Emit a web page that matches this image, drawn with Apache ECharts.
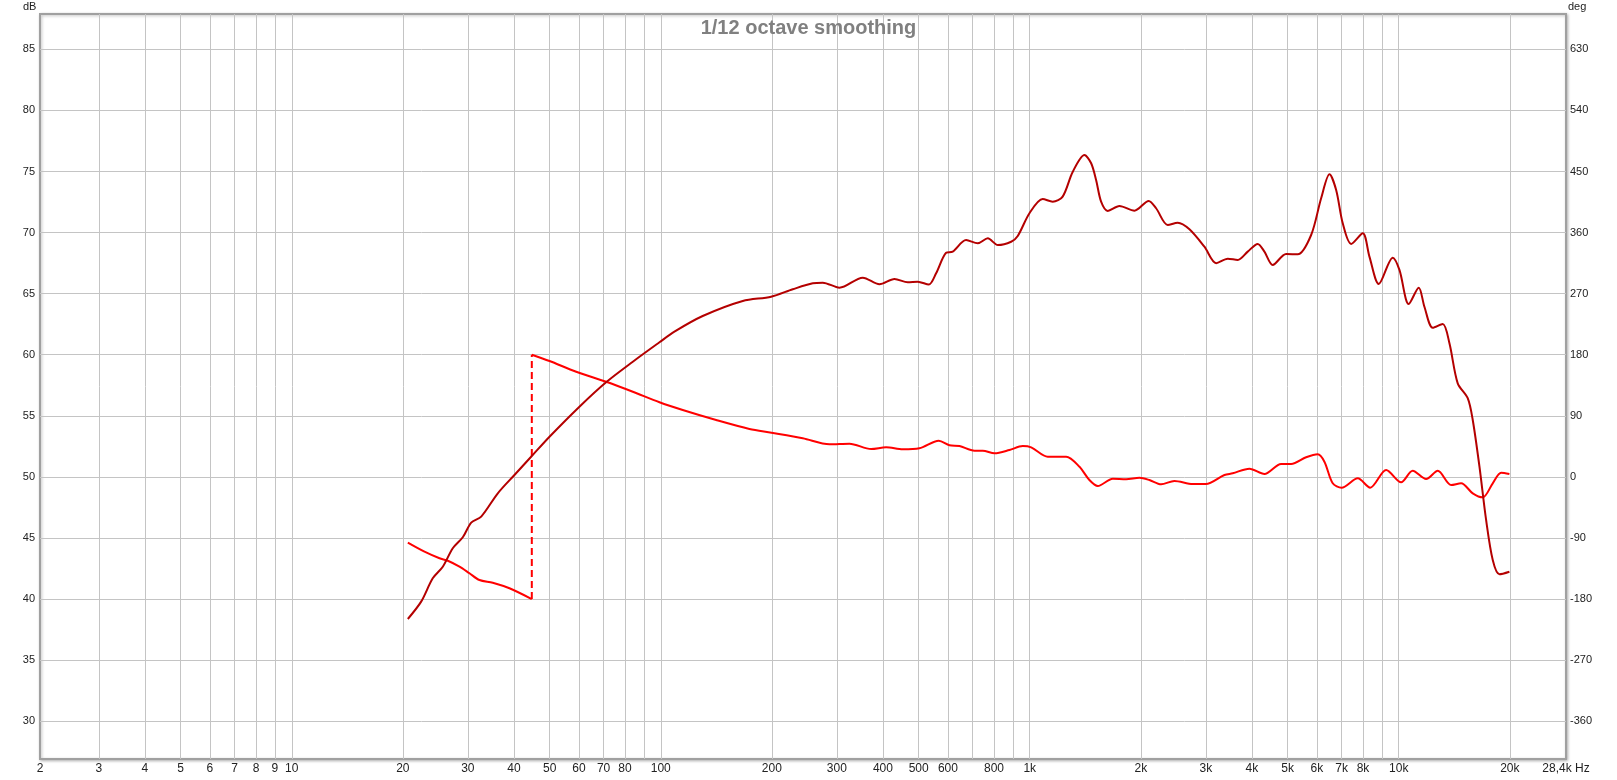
<!DOCTYPE html>
<html>
<head>
<meta charset="utf-8">
<script src="https://cdn.jsdelivr.net/npm/echarts@6/dist/echarts.min.js"></script>
<style>
html,body{margin:0;padding:0;background:#fff;}
#c{width:1617px;height:780px;}
</style>
</head>
<body>
<div id="c"></div>
<script>
// ---- Data ----
const titleText = '1/12 octave smoothing';

// Magnitude (dB) vs frequency (Hz)
const magFreq = [20.63,22.42,24.1,25.66,27.31,29.07,30.64,32.61,36.17,40.13,44.72,49.94,60.2,71.1,84.0,99.2,108.9,129.9,166.8,199.1,227.9,258.2,274.8,305,352.7,391.5,429.9,467.1,497,532.5,557.5,593.4,618.4,672.2,722.9,769.6,819.2,890.3,927.9,998.2,1084,1154,1228,1308,1407,1467,1513,1561,1627,1750,1922,2101,2200,2366,2518,2709,2974,3201,3441,3662,3897,4148,4325,4555,4952,5324,5789,6162,6491,6767,7051,7430,7989,8329,8829,9632,10044,10643,11329,11738,12364,13160,13722,14450,15380,15870,16550,17250,17980,18750,19950];
const magDb = [38.37,39.79,41.70,42.65,44.16,45.06,46.26,46.75,48.66,50.16,51.71,53.29,55.75,57.75,59.43,61.02,61.89,63.17,64.40,64.75,65.36,65.85,65.90,65.49,66.31,65.77,66.20,65.93,65.98,65.74,66.67,68.35,68.44,69.39,69.12,69.53,68.98,69.25,69.72,71.58,72.75,72.53,72.94,74.98,76.35,75.67,74.30,72.53,71.77,72.18,71.79,72.59,71.99,70.62,70.81,70.27,68.84,67.49,67.86,67.76,68.44,69.07,68.44,67.35,68.25,68.22,69.80,72.81,74.77,73.49,70.76,69.07,69.94,68.03,65.79,67.94,66.94,64.15,65.49,63.93,62.21,62.52,60.94,57.66,56.44,54.66,50.84,46.48,43.20,42.03,42.24];

// Phase (deg): low segment before the wrap, high segment after the wrap
const phaseLowFreq = [20.63,22.89,25.14,26.48,28.48,30.31,32.26,35.05,38.9,44.72];
const phaseLowDeg = [-96.9,-110.2,-119.9,-123.5,-132.3,-142.0,-151.9,-155.9,-164.1,-180];
const phaseHighFreq = [44.72,49.94,59.0,71.1,84.0,99.2,114.7,141.3,173.9,199.6,242.6,286.6,324.6,371.7,408.1,452.7,502,566.8,605.9,645,708.4,745.9,802.6,881,957,1009,1119,1255,1364,1451,1529,1679,1825,1983,2110,2270,2466,2765,3000,3370,3549,3938,4325,4800,5109,5610,6033,6289,6624,7000,7744,8366,9245,10150,10910,11864,12758,13870,14760,15870,16890,17980,18950,19950];
const phaseHighDeg = [180,170.7,155,140.2,125.5,110,98.6,83.8,70.6,65.1,56.9,48.0,48.9,41.1,43.6,40.7,42.1,53.3,46.6,45.5,38.6,38.6,34.8,39.6,45.5,43.6,29.8,29.8,15.0,-4.6,-13.4,-2.7,-3.5,-1.2,-4.6,-10.9,-6.0,-10.5,-10.5,2.8,5.3,12.1,4.3,19.0,19.0,28.9,33.3,22.4,-9.4,-15.9,-2.1,-15.9,10.2,-8.0,9.1,-3.1,9.1,-11.9,-9.4,-24.2,-30.1,-9.4,6.2,4.3];
// Phase wrap connector
const wrapFreq = [44.72,44.72];
const wrapDeg = [-180,180];

// Axes
const freqMin = 2.078, freqMax = 28400;
const dbMin = 26.91, dbMax = 87.89;
const dbTicks = [30,35,40,45,50,55,60,65,70,75,80,85];
const degTicks = [-360,-270,-180,-90,0,90,180,270,360,450,540,630];
const freqGrid = [3,4,5,6,7,8,9,10,20,30,40,50,60,70,80,90,100,200,300,400,500,600,700,800,900,1000,2000,3000,4000,5000,6000,7000,8000,9000,10000,20000];
const freqLabelVals = [2.078,3,4,5,6,7,8,9,10,20,30,40,50,60,70,80,100,200,300,400,500,600,800,1000,2000,3000,4000,5000,6000,7000,8000,10000,20000,28400];
const freqLabelText = ['2','3','4','5','6','7','8','9','10','20','30','40','50','60','70','80','100','200','300','400','500','600','800','1k','2k','3k','4k','5k','6k','7k','8k','10k','20k','28,4k Hz'];

// ---- Build ----
const L = Math.log10;
function pairs(fs, vs){ return fs.map((f,i)=>[L(f), vs[i]]); }
const degOf = db => (db-50)*18;

const chart = echarts.init(document.getElementById('c'), null, {renderer:'canvas'});
const labelFont = {fontFamily:'Liberation Sans, Arial, sans-serif', fontSize:11, color:'#222'};

chart.setOption({
  animation:false,
  backgroundColor:'#fff',
  title:{
    text:titleText, left:'center', top:13,
    textStyle:{fontFamily:'Liberation Sans, Arial, sans-serif', fontSize:20, fontWeight:'bold', color:'#808080'}
  },
  graphic:[
    {type:'text', left:23, top:1, style:{text:'dB', font:'11px Liberation Sans, Arial, sans-serif', fill:'#222'}},
    {type:'text', left:1568, top:1, style:{text:'deg', font:'11px Liberation Sans, Arial, sans-serif', fill:'#222'}}
  ],
  grid:{
    left:40, top:14, width:1526, height:745, show:true,
    backgroundColor:'#fff', borderColor:'#a0a0a0', borderWidth:2,
    shadowColor:'rgba(0,0,0,0.25)', shadowBlur:3, shadowOffsetX:1, shadowOffsetY:1
  },
  xAxis:{
    type:'value', min:L(freqMin), max:L(freqMax),
    axisLine:{show:false},
    axisTick:{show:false, customValues:freqGrid.map(L)},
    splitLine:{show:true, lineStyle:{color:'#c4c4c4', width:1}},
    axisLabel:{
      customValues:freqLabelVals.map(L), margin:4,
      fontFamily:'Liberation Sans Narrow, Liberation Sans, Arial, sans-serif', fontSize:12, color:'#222',
      hideOverlap:false,
      formatter:function(v){
        let best=0, bd=1e9;
        freqLabelVals.forEach((f,i)=>{const d=Math.abs(L(f)-v); if(d<bd){bd=d;best=i;}});
        return freqLabelText[best];
      }
    }
  },
  yAxis:[
    {
      type:'value', min:dbMin, max:dbMax, position:'left',
      axisLine:{show:false},
      axisTick:{show:false, customValues:dbTicks},
      splitLine:{show:true, lineStyle:{color:'#c4c4c4', width:1}},
      axisLabel:Object.assign({customValues:dbTicks, margin:5}, labelFont)
    },
    {
      type:'value', min:degOf(dbMin), max:degOf(dbMax), position:'right',
      axisLine:{show:false},
      axisTick:{show:false, customValues:degTicks},
      splitLine:{show:false},
      axisLabel:Object.assign({customValues:degTicks, margin:4}, labelFont)
    }
  ],
  series:[
    {type:'line', name:'phase-low', yAxisIndex:1, data:pairs(phaseLowFreq, phaseLowDeg), smooth:0.3, showSymbol:false,
      lineStyle:{color:'#ff0000', width:2}, z:3},
    {type:'line', name:'phase-high', yAxisIndex:1, data:pairs(phaseHighFreq, phaseHighDeg), smooth:0.3, showSymbol:false,
      lineStyle:{color:'#ff0000', width:2}, z:3},
    {type:'line', name:'wrap', yAxisIndex:1, data:pairs(wrapFreq, wrapDeg), showSymbol:false,
      lineStyle:{color:'#ff0000', width:2, type:[7,4]}, z:3},
    {type:'line', name:'magnitude', yAxisIndex:0, data:pairs(magFreq, magDb), smooth:0.3, showSymbol:false,
      lineStyle:{color:'#b40000', width:2}, z:4}
  ]
});
</script>
</body>
</html>
